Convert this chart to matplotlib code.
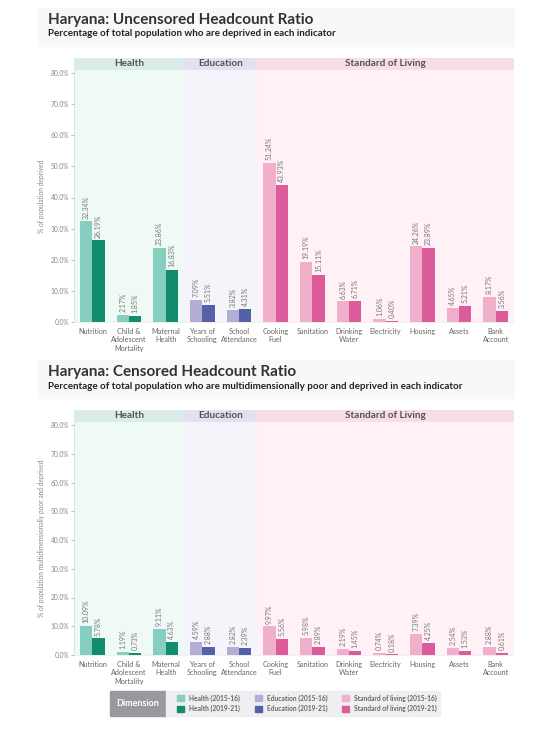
import matplotlib.pyplot as plt
import numpy as np
from matplotlib.patches import Rectangle

plt.rcParams['font.family'] = ['Lato', 'DejaVu Sans']

# indicators, grouped by dimension
categories = ["Nutrition", "Child &\nAdolescent\nMortality", "Maternal\nHealth",
              "Years of\nSchooling", "School\nAttendance",
              "Cooking\nFuel", "Sanitation", "Drinking\nWater", "Electricity",
              "Housing", "Assets", "Bank\nAccount"]
dimensions = ["Health", "Education", "Standard of Living"]
dim_sizes = [3, 2, 7]

# uncensored headcount ratio (%)
unc_2015 = [32.34, 2.17, 23.86, 7.09, 3.82, 51.24, 19.19, 6.63, 1.06, 24.26, 4.65, 8.17]
unc_2019 = [26.19, 1.85, 16.83, 5.51, 4.31, 43.93, 15.11, 6.71, 0.40, 23.89, 5.21, 3.56]

# censored headcount ratio (%)
cen_2015 = [10.09, 1.19, 9.11, 4.59, 2.82, 9.97, 5.98, 2.19, 0.74, 7.39, 2.54, 2.88]
cen_2019 = [5.78, 0.73, 4.63, 2.88, 2.39, 5.56, 2.89, 1.45, 0.18, 4.25, 1.53, 0.61]

light_cols = ["#86cfc0", "#b2afd7", "#f0afcb"]
dark_cols = ["#138c6e", "#5561a6", "#dc5c9b"]
bg_cols = ["#effaf7", "#f5f4fa", "#fff1f5"]
head_cols = ["#dcecea", "#e3e1ef", "#f6dde7"]

W, H = 559, 750
fig = plt.figure(figsize=(W / 100, H / 100), dpi=100)
fig.patch.set_facecolor("white")


def fbox(x0, y0, x1, y1):
    # pixel box -> figure fraction [left, bottom, width, height]
    return [x0 / W, 1 - y1 / H, (x1 - x0) / W, (y1 - y0) / H]


def panel(top, title, subtitle, ylabel, v15, v19, ytop):
    # title box
    fig.patches.append(Rectangle((38 / W, 1 - (top + 38) / H), 476 / W, 38 / H,
                                 transform=fig.transFigure, color="#f8f8f8", zorder=0))
    fig.text(48 / W, 1 - (top + 12) / H, title, fontsize=11, fontweight="bold",
             color="#333333", va="center")
    fig.text(48 / W, 1 - (top + 26) / H, subtitle, fontsize=7.1, fontweight="bold",
             color="#222222", va="center")

    n = len(categories)
    edges = np.cumsum([0] + dim_sizes) - 0.5

    # dimension header band
    hax = fig.add_axes(fbox(74, top + 50, 514, top + 62))
    hax.set_xlim(-0.5, n - 0.5)
    hax.set_ylim(0, 1)
    for i, d in enumerate(dimensions):
        hax.axvspan(edges[i], edges[i + 1], color=head_cols[i], lw=0)
        hax.text((edges[i] + edges[i + 1]) / 2, 0.5, d, ha="center", va="center",
                 fontsize=7.2, fontweight="bold", color="#555555")
    hax.axis("off")

    ax = fig.add_axes(fbox(74, top + 62, 514, ytop))
    x = np.arange(n)
    w = 0.34
    c15, c19 = [], []
    for i, s in enumerate(dim_sizes):
        c15 += [light_cols[i]] * s
        c19 += [dark_cols[i]] * s
    for i in range(len(dimensions)):
        ax.axvspan(edges[i], edges[i + 1], color=bg_cols[i], lw=0, zorder=0)
    b1 = ax.bar(x - w / 2, v15, w, color=c15, zorder=2)
    b2 = ax.bar(x + w / 2, v19, w, color=c19, zorder=2)
    ax.bar_label(b1, labels=[f"{v:.2f}%" for v in v15], rotation=90, padding=2,
                 fontsize=5, color="#777777")
    ax.bar_label(b2, labels=[f"{v:.2f}%" for v in v19], rotation=90, padding=2,
                 fontsize=5, color="#777777")
    ax.set_xlim(-0.5, n - 0.5)
    ax.set_ylim(0, 80 * (ytop - top - 62) / (ytop - top - 62 - 3))
    ax.set_yticks(np.arange(0, 81, 10))
    ax.set_yticklabels([f"{t:.1f}%" for t in np.arange(0, 81, 10)])
    ax.set_xticks(x)
    ax.set_xticklabels(categories, linespacing=1.3)
    ax.tick_params(axis="y", labelsize=4.8, colors="#888888", length=2, width=0.4, pad=1.5)
    ax.tick_params(axis="x", labelsize=5.2, colors="#666666", length=0, pad=4)
    ax.set_ylabel(ylabel, fontsize=4.8, color="#888888")
    ax.yaxis.set_label_coords(-29 / 440, 0.5)
    ax.set_facecolor("none")
    for s in ["top", "right"]:
        ax.spines[s].set_visible(False)
    ax.spines["left"].set_color("#dddddd")
    ax.spines["left"].set_linewidth(0.6)
    ax.spines["bottom"].set_color("#eeeeee")
    ax.spines["bottom"].set_linewidth(0.6)
    return b1, b2


panel(8, "Haryana: Uncensored Headcount Ratio",
      "Percentage of total population who are deprived in each indicator",
      "% of population deprived", unc_2015, unc_2019, 322)
panel(360, "Haryana: Censored Headcount Ratio",
      "Percentage of total population who are multidimensionally poor and deprived in each indicator",
      "% of population multidimensionally poor and deprived", cen_2015, cen_2019, 655)

# legend
fig.patches.append(Rectangle((110 / W, 1 - 716 / H), 56 / W, 25 / H,
                             transform=fig.transFigure, color="#9b989d", zorder=0))
fig.text(138 / W, 1 - 703.5 / H, "Dimension", fontsize=6.5, fontweight="bold",
         color="white", ha="center", va="center")
fig.patches.append(Rectangle((166 / W, 1 - 716 / H), 274 / W, 25 / H,
                             transform=fig.transFigure, color="#efeff1", zorder=0))
names = ["Health", "Education", "Standard of living"]
handles, labels = [], []
for i, nm in enumerate(names):
    for col, yr in [(light_cols[i], "2015-16"), (dark_cols[i], "2019-21")]:
        handles.append(Rectangle((0, 0), 1, 1, color=col))
        labels.append(f"{nm} ({yr})")
leg = fig.legend(handles, labels, ncol=3, loc="center left",
                 bbox_to_anchor=(174 / W, 1 - 703.5 / H), frameon=False,
                 fontsize=4.8, handlelength=1.0, handleheight=1.0,
                 handletextpad=0.8, columnspacing=2.2, labelspacing=0.5,
                 borderpad=0)
for t in leg.get_texts():
    t.set_color("#666666")
    t.set_fontweight("bold")

fig.savefig("out.png", dpi=100)
